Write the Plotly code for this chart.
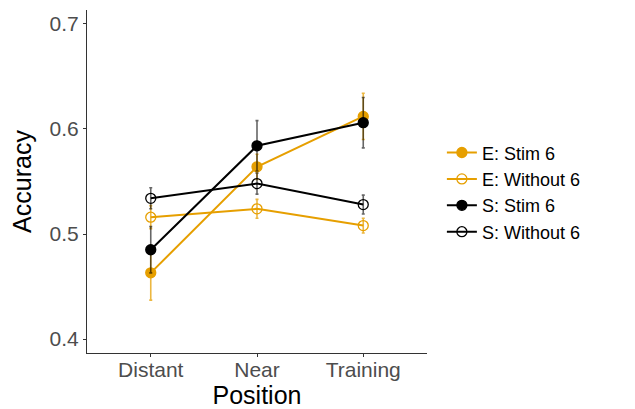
import plotly.graph_objects as go

positions = ["Distant", "Near", "Training"]
series_names = ["E: Stim 6", "E: Without 6", "S: Stim 6", "S: Without 6"]
e_stim = [0.463, 0.564, 0.612]
e_stim_err = [0.026, 0.012, 0.022]
e_without = [0.516, 0.524, 0.508]
e_without_err = [0.011, 0.009, 0.007]
s_stim = [0.485, 0.584, 0.606]
s_stim_err = [0.022, 0.024, 0.024]
s_without = [0.534, 0.548, 0.528]
s_without_err = [0.010, 0.010, 0.009]
y_ticks = [0.4, 0.5, 0.6, 0.7]

ORANGE = "#E69F00"
BLACK = "#000000"
FONT = "Liberation Sans, Arial, sans-serif"

specs = [
    (series_names[0], e_stim, e_stim_err, ORANGE, "rgba(230,159,0,0.75)", "circle"),
    (series_names[1], e_without, e_without_err, ORANGE, "rgba(230,159,0,0.75)", "circle-open"),
    (series_names[2], s_stim, s_stim_err, BLACK, "rgba(0,0,0,0.6)", "circle"),
    (series_names[3], s_without, s_without_err, BLACK, "rgba(0,0,0,0.6)", "circle-open"),
]

fig = go.Figure()
for name, vals, errs, col, ecol, sym in specs:
    fig.add_trace(go.Scatter(
        x=positions, y=vals, name=name, mode="lines+markers",
        line=dict(color=col, width=2),
        marker=dict(color=col, symbol=sym, size=10, line=dict(color=col, width=1.3)),
        error_y=dict(type="data", array=errs, visible=True, color=ecol, thickness=1.6, width=1.5),
    ))

fig.update_layout(
    width=627, height=401,
    margin=dict(l=79, r=208, t=2, b=56),
    paper_bgcolor="white", plot_bgcolor="white",
    font=dict(family=FONT, size=21, color="#4D4D4D"),
    showlegend=True,
    legend=dict(
        xref="container", yref="container",
        x=0.692, y=0.685, xanchor="left", yanchor="top",
        font=dict(family=FONT, size=18, color="#000000"),
        bgcolor="rgba(0,0,0,0)", itemwidth=30, tracegroupgap=0,
    ),
    xaxis=dict(
        type="category", range=[-0.6, 2.6],
        showline=True, linecolor="#333333", linewidth=1,
        ticks="outside", ticklen=3, tickcolor="#333333",
        showgrid=False, zeroline=False, automargin=False,
        ticklabelstandoff=-5,
        tickfont=dict(family=FONT, size=21, color="#4D4D4D"),
        title=dict(text="Position", font=dict(family=FONT, size=25, color="#000000"), standoff=0),
    ),
    yaxis=dict(
        range=[0.3867, 0.7133],
        tickvals=y_ticks, ticktext=[f"{v:.1f}" for v in y_ticks],
        showline=True, linecolor="#333333", linewidth=1,
        ticks="outside", ticklen=3, tickcolor="#333333",
        showgrid=False, zeroline=False, automargin=False,
        tickfont=dict(family=FONT, size=21, color="#4D4D4D"),
        title=dict(text="Accuracy", font=dict(family=FONT, size=25, color="#000000"), standoff=12),
    ),
)

fig.write_html("out.html")
